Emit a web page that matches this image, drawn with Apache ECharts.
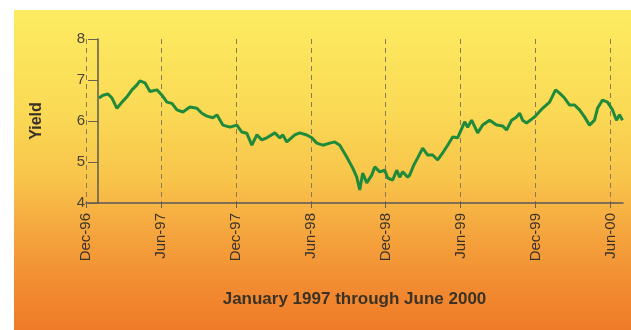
<!DOCTYPE html>
<html>
<head>
<meta charset="utf-8">
<script src="https://cdn.jsdelivr.net/npm/echarts@6/dist/echarts.min.js"></script>
<style>html,body{margin:0;padding:0;background:#fff}#c{width:631px;height:330px}</style>
</head>
<body>
<div id="c"></div>
<script>
// months since Dec-96 (0 = Dec-96, 6 = Jun-97, ...)
const months = [1.04,1.36,1.76,2.08,2.48,2.88,3.28,3.68,4.08,4.32,4.72,5.12,5.68,6.08,6.48,6.88,7.28,7.76,8.32,8.88,9.28,9.68,10.16,10.48,10.96,11.52,12.08,12.48,12.88,13.28,13.68,14.08,14.48,15.12,15.52,15.76,16.08,16.72,17.12,17.68,18.08,18.48,18.96,19.52,19.92,20.32,20.88,21.36,21.68,21.92,22.16,22.48,22.88,23.12,23.52,23.92,24.16,24.56,24.88,25.12,25.36,25.76,25.92,26.24,26.56,26.96,27.36,27.76,28.16,28.56,28.96,29.36,29.76,30.32,30.56,30.88,31.36,31.76,32.32,32.88,33.36,33.68,34.08,34.48,34.72,34.96,35.28,35.92,36.56,37.12,37.6,37.92,38.32,38.72,39.12,39.52,39.92,40.32,40.72,40.96,41.36,41.76,42.16,42.48,42.72,42.96];
const yields = [6.56,6.63,6.66,6.56,6.31,6.46,6.59,6.76,6.88,6.98,6.93,6.72,6.76,6.63,6.46,6.43,6.27,6.22,6.34,6.31,6.19,6.12,6.08,6.15,5.90,5.85,5.90,5.73,5.70,5.41,5.66,5.54,5.59,5.71,5.59,5.66,5.49,5.66,5.71,5.66,5.59,5.46,5.41,5.46,5.49,5.41,5.12,4.85,4.63,4.32,4.73,4.49,4.68,4.88,4.76,4.80,4.61,4.56,4.80,4.63,4.76,4.63,4.68,4.92,5.10,5.34,5.17,5.17,5.05,5.22,5.41,5.61,5.59,5.98,5.85,6.02,5.71,5.90,6.02,5.90,5.88,5.78,6.02,6.10,6.19,6.02,5.95,6.10,6.31,6.46,6.76,6.68,6.56,6.39,6.39,6.27,6.10,5.90,6.02,6.31,6.51,6.46,6.27,6.02,6.15,6.02];
const tickLabels = ["Dec-96","Jun-97","Dec-97","Jun-98","Dec-98","Jun-99","Dec-99","Jun-00"];
const xTitle = "January 1997 through June 2000";
const yTitle = "Yield";

const data = months.map((m, i) => [m, yields[i]]);
const chart = echarts.init(document.getElementById('c'), null, {renderer: 'canvas'});
const txt = '#3a3226';
chart.setOption({
  animation: false,
  backgroundColor: '#ffffff',
  graphic: [{
    type: 'rect', z: -100, silent: true,
    shape: {x: 14, y: 10, width: 640, height: 340},
    style: {fill: new echarts.graphic.LinearGradient(0, 0, 0, 1, [
      {offset: 0, color: '#fdec62'},
      {offset: 0.3, color: '#fad955'},
      {offset: 0.5, color: '#f8c44a'},
      {offset: 0.65, color: '#f5a63e'},
      {offset: 0.82, color: '#f18a30'},
      {offset: 1, color: '#ee7424'}
    ])}
  }],
  grid: {left: 86, right: 8, top: 39, bottom: 127, containLabel: false},
  xAxis: {
    type: 'value', min: 0, max: 43, interval: 6,
    name: xTitle, nameLocation: 'middle', nameGap: 88,
    nameTextStyle: {fontFamily: 'Liberation Sans', fontWeight: 'bold', fontSize: 17, color: txt},
    axisLine: {onZero: false, lineStyle: {color: '#5a5a55', width: 1.5}},
    axisTick: {show: true, length: 5, lineStyle: {color: '#6a6050'}},
    axisLabel: {rotate: 90, margin: 10, showMaxLabel: false, fontFamily: 'Liberation Sans', fontSize: 15, color: txt,
      formatter: v => (v % 6 === 0 ? tickLabels[v / 6] : '')},
    splitLine: {show: true, showMaxLine: false, lineStyle: {color: '#8a7a5c', type: [5, 4], width: 1}}
  },
  yAxis: {
    type: 'value', min: 4, max: 8, interval: 1, offset: -12,
    name: yTitle, nameLocation: 'middle', nameGap: 53,
    nameTextStyle: {fontFamily: 'Liberation Sans', fontWeight: 'bold', fontSize: 16, color: txt},
    axisLine: {show: true, onZero: false, lineStyle: {color: '#5a5a55', width: 1.5}},
    axisTick: {show: true, length: 10, lineStyle: {color: '#6a6050'}},
    axisLabel: {margin: 13, fontFamily: 'Liberation Sans', fontSize: 15, color: '#4a4438'},
    splitLine: {show: false}
  },
  series: [{
    type: 'line', data: data, showSymbol: false, smooth: false,
    lineStyle: {color: '#1f8a3a', width: 3}
  }]
});
</script>
</body>
</html>
